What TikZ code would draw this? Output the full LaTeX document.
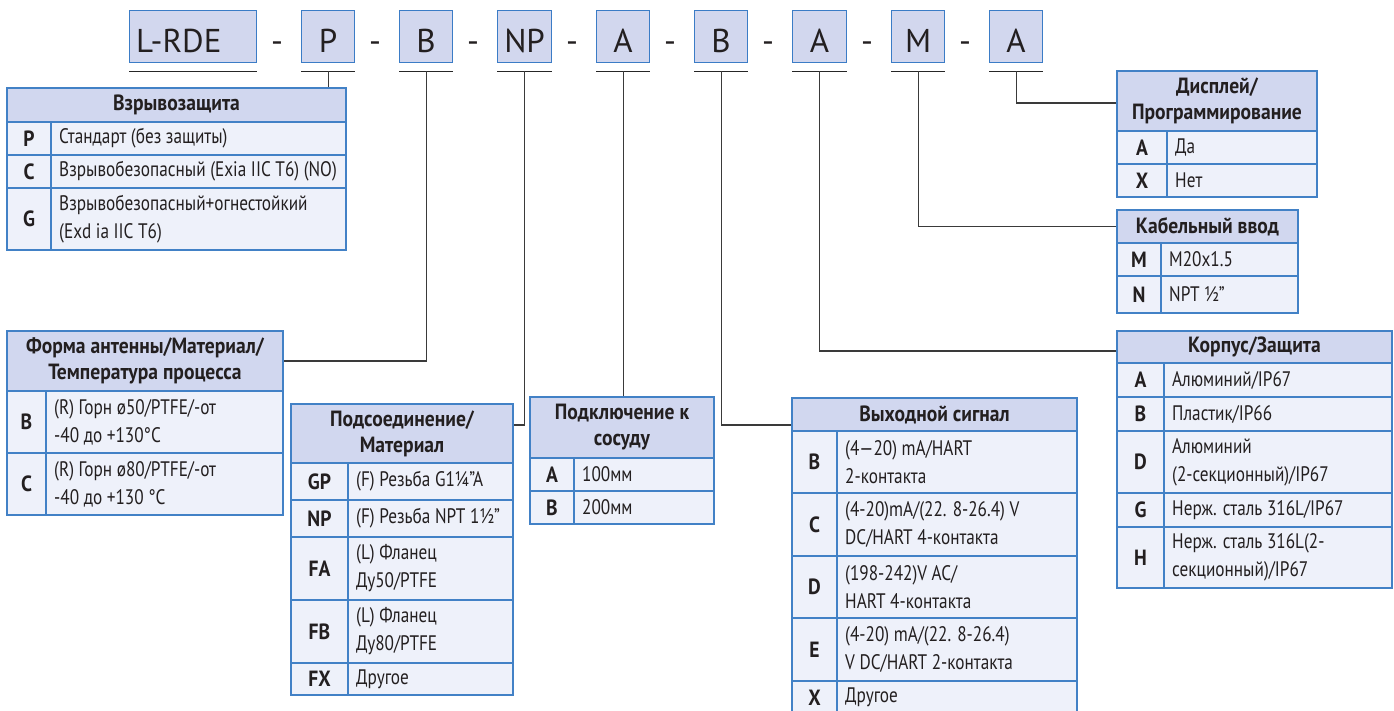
\documentclass[tikz,border=0pt]{standalone}
\usepackage{fontspec}
\setmainfont{PT Sans}
\newfontfamily\cf[FakeStretch=0.82]{PT Sans}
\newfontfamily\cfb[FakeStretch=0.89]{PT Sans Bold}
\usetikzlibrary{calc,fit}
\definecolor{boxfill}{HTML}{D2D7EE}
\definecolor{boxline}{HTML}{3B7CC6}
\definecolor{headfill}{HTML}{D1D7EF}
\definecolor{rowfill}{HTML}{EEF1FA}
\definecolor{tline}{HTML}{4281C6}
\definecolor{txt}{HTML}{231F20}
\definecolor{connc}{HTML}{3A3A3A}
\tikzset{
  codebox/.style={draw=boxline, fill=boxfill, line width=1.2pt, inner sep=0pt, minimum height=52pt, anchor=north west},
  bigtext/.style={font=\fontsize{33}{33}\selectfont, text=txt, inner sep=0pt},
  uline/.style={draw=black!85, line width=1.4pt},
  connline/.style={draw=connc, line width=1.2pt},
  headcell/.style={fill=headfill, draw=tline, line width=1.3pt, inner sep=0pt},
  rowcell/.style={fill=rowfill, draw=tline, line width=1.3pt, inner sep=0pt},
  tframe/.style={draw=tline, line width=1.5pt, inner sep=0pt},
  tl/.style={draw=tline, line width=1.3pt},
  headtext/.style={font=\cfb\fontsize{22}{26}\selectfont, text=txt, align=center, inner sep=0pt},
  codetext/.style={font=\cfb\fontsize{22}{26}\selectfont, text=txt, inner sep=0pt},
  bodytext/.style={font=\cf\fontsize{21}{28}\selectfont, text=txt, align=left, inner sep=0pt, anchor=west},
}
\newcommand\thd[6]{%
  \node[headcell, fit={(#2,#3) (#4,#5)}] (#1) {};
  \node[headtext] (#1-t) at (#1.center) {#6};
}
\newcommand\trw[8]{%
  \node[rowcell, fit={(#2,#5) (#4,#6)}] (#1) {};
  \draw[tl] (#3,#5) -- (#3,#6);
  \node[codetext] (#1-c) at ($(#2,#5)!0.5!(#3,#6)$) {#7};
  \node[bodytext] (#1-t) at ($(#3,#5)!0.5!(#3,#6)+(8,0)$) {#8};
}
\begin{document}
\begin{tikzpicture}[x=1pt,y=-1pt]
\useasboundingbox (0,0) rectangle (1394,710);
% top code boxes
\node[codebox, minimum width=127pt] (b0) at (129,10) {};
\node[codebox, minimum width=53pt] (b1) at (301,10) {};
\node[codebox, minimum width=53pt] (b2) at (399,10) {};
\node[codebox, minimum width=54pt] (b3) at (497,10) {};
\node[codebox, minimum width=53pt] (b4) at (596,10) {};
\node[codebox, minimum width=53pt] (b5) at (694,10) {};
\node[codebox, minimum width=54pt] (b6) at (792,10) {};
\node[codebox, minimum width=53pt] (b7) at (891,10) {};
\node[codebox, minimum width=53pt] (b8) at (989,10) {};
\node[bigtext, anchor=base west] (l0) at (136,52) {L-RDE};
\foreach \i/\t in {1/P,2/B,3/NP,4/A,5/B,6/A,7/M,8/A}{
  \node[bigtext, anchor=base] (l\i) at (b\i.center |- 0,52) {\t};
}
\foreach \i/\x in {1/277,2/375,3/473,4/572,5/670,6/768,7/867,8/965}{
  \node[bigtext, anchor=base] (d\i) at (\x,52) {-};
}
\foreach \i in {0,...,8}{
  \draw[uline] ($(b\i.south west)+(0,8)$) -- ($(b\i.south east)+(0,8)$);
  \coordinate (u\i) at ($(b\i.south)+(0,8)$);
}

% Table: Взрывозащита
\thd{tExh}{7}{88}{346}{122}{Взрывозащита}
\trw{tEx1}{7}{51}{346}{122}{155}{P}{Стандарт (без защиты)}
\trw{tEx2}{7}{51}{346}{155}{188}{C}{Взрывобезопасный (Exia IIC T6) (NO)}
\trw{tEx3}{7}{51}{346}{188}{250}{G}{Взрывобезопасный+огнестойкий\\(Exd ia IIC T6)}
\node[tframe, fit={(7,88) (346,250)}] (tEx) {};

% Table: Форма антенны
\thd{tAnth}{7}{331}{283}{391}{Форма антенны/Материал/\\Температура процесса}
\trw{tAnt1}{7}{46}{283}{391}{453}{B}{(R) Горн ø50/PTFE/-от\\-40 до +130°C}
\trw{tAnt2}{7}{46}{283}{453}{515}{C}{(R) Горн ø80/PTFE/-от\\-40 до +130 °C}
\node[tframe, fit={(7,331) (283,515)}] (tAnt) {};

% Table: Подсоединение
\thd{tConh}{291}{404}{513}{463}{Подсоединение/\\Материал}
\trw{tCon1}{291}{348}{513}{463}{500}{GP}{(F) Резьба G1¼”A}
\trw{tCon2}{291}{348}{513}{500}{537}{NP}{(F) Резьба NPT 1½”}
\trw{tCon3}{291}{348}{513}{537}{600}{FA}{(L) Фланец\\Ду50/PTFE}
\trw{tCon4}{291}{348}{513}{600}{663}{FB}{(L) Фланец\\Ду80/PTFE}
\trw{tCon5}{291}{348}{513}{663}{695}{FX}{Другое}
\node[tframe, fit={(291,404) (513,695)}] (tCon) {};

% Table: Подключение к сосуду
\thd{tVesh}{530}{397}{714}{458}{Подключение к\\сосуду}
\trw{tVes1}{530}{574}{714}{458}{491}{A}{100мм}
\trw{tVes2}{530}{574}{714}{491}{524}{B}{200мм}
\node[tframe, fit={(530,397) (714,524)}] (tVes) {};

% Table: Выходной сигнал
\thd{tOuth}{792}{398}{1077}{431}{Выходной сигнал}
\trw{tOut1}{792}{837}{1077}{431}{493}{B}{(4—20) mA/HART\\2-контакта}
\trw{tOut2}{792}{837}{1077}{493}{556}{C}{(4-20)mA/(22. 8-26.4) V\\DC/HART 4-контакта}
\trw{tOut3}{792}{837}{1077}{556}{618}{D}{(198-242)V AC/\\HART 4-контакта}
\trw{tOut4}{792}{837}{1077}{618}{681}{E}{(4-20) mA/(22. 8-26.4)\\V DC/HART 2-контакта}
\trw{tOut5}{792}{837}{1077}{681}{714}{X}{Другое}
\node[tframe, fit={(792,398) (1077,714)}] (tOut) {};

% Table: Корпус/Защита
\thd{tHouh}{1117}{331}{1392}{363}{Корпус/Защита}
\trw{tHou1}{1117}{1164}{1392}{363}{397}{A}{Алюминий/IP67}
\trw{tHou2}{1117}{1164}{1392}{397}{431}{B}{Пластик/IP66}
\trw{tHou3}{1117}{1164}{1392}{431}{493}{D}{Алюминий\\(2-секционный)/IP67}
\trw{tHou4}{1117}{1164}{1392}{493}{527}{G}{Нерж. сталь 316L/IP67}
\trw{tHou5}{1117}{1164}{1392}{527}{588}{H}{Нерж. сталь 316L(2-\\секционный)/IP67}
\node[tframe, fit={(1117,331) (1392,588)}] (tHou) {};

% Table: Дисплей
\thd{tDish}{1117}{71}{1317}{131}{Дисплей/\\Программирование}
\trw{tDis1}{1117}{1167}{1317}{131}{164}{A}{Да}
\trw{tDis2}{1117}{1167}{1317}{164}{197}{X}{Нет}
\node[tframe, fit={(1117,71) (1317,197)}] (tDis) {};

% Table: Кабельный ввод
\thd{tCabh}{1117}{210}{1298}{243}{Кабельный ввод}
\trw{tCab1}{1117}{1161}{1298}{243}{276}{M}{M20x1.5}
\trw{tCab2}{1117}{1161}{1298}{276}{313}{N}{NPT ½”}
\node[tframe, fit={(1117,210) (1298,313)}] (tCab) {};

% connectors
\draw[connline] (u1) -- (u1 |- tEx.north);
\draw[connline] (u2) |- (tAnth.east);
\draw[connline] (u3) |- ([yshift=8.5pt]tConh.east);
\draw[connline] (u4) -- (u4 |- tVes.north);
\draw[connline] (u5) |- ([yshift=-10.5pt]tOuth.west);
\draw[connline] (u6) |- ([yshift=-4pt]tHouh.west);
\draw[connline] (u7) |- (tCabh.west);
\draw[connline] (u8) |- ([yshift=-2pt]tDish.west);
\end{tikzpicture}
\end{document}
